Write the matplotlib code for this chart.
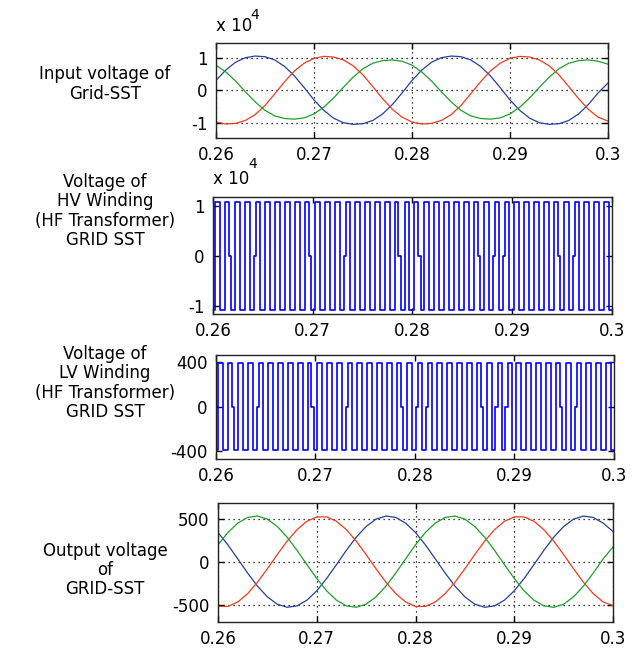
import matplotlib
matplotlib.use("Agg")
import matplotlib.pyplot as plt
import numpy as np

plt.rcParams["font.family"] = ["DejaVu Sans"]
plt.rcParams["font.size"] = 12

# time samples for the sine waveforms (every 1 ms)
t_sine = np.linspace(0.26, 0.30, 41)

# input voltage of Grid-SST, in units of 1e4 V
in_blue = [0.30, 0.62, 0.86, 1.00, 1.05, 1.03, 0.93, 0.73, 0.44, 0.08,
           -0.30, -0.62, -0.86, -1.00, -1.05, -1.03, -0.93, -0.73, -0.44, -0.08,
           0.30, 0.62, 0.86, 1.00, 1.05, 1.03, 0.93, 0.73, 0.44, 0.08,
           -0.30, -0.62, -0.86, -1.00, -1.05, -1.03, -0.93, -0.73, -0.44, -0.08,
           0.22]
in_red = [-0.98, -1.04, -1.02, -0.93, -0.75, -0.47, -0.11, 0.26, 0.59, 0.83,
          0.98, 1.04, 1.02, 0.93, 0.75, 0.47, 0.11, -0.26, -0.59, -0.83,
          -0.98, -1.04, -1.02, -0.93, -0.75, -0.47, -0.11, 0.26, 0.59, 0.83,
          0.98, 1.04, 1.02, 0.93, 0.75, 0.47, 0.11, -0.26, -0.59, -0.83,
          -0.95]
in_green = [0.77, 0.56, 0.28, -0.05, -0.36, -0.62, -0.79, -0.87, -0.89, -0.85,
            -0.73, -0.52, -0.24, 0.09, 0.40, 0.66, 0.83, 0.91, 0.93, 0.89,
            0.77, 0.56, 0.28, -0.05, -0.36, -0.62, -0.79, -0.87, -0.89, -0.85,
            -0.73, -0.52, -0.24, 0.09, 0.40, 0.66, 0.83, 0.91, 0.93, 0.89,
            0.80]

# output voltage of Grid-SST, in V
out_green = [195, 338, 447, 513, 529, 493, 408, 284, 132, -33,
             -195, -338, -447, -513, -529, -493, -408, -284, -132, 33,
             195, 338, 447, 513, 529, 493, 408, 284, 132, -33,
             -195, -338, -447, -513, -529, -493, -408, -284, -132, 33,
             170]
out_red = [-519, -519, -468, -371, -238, -82, 82, 238, 371, 468,
           519, 519, 468, 371, 238, 82, -82, -238, -371, -468,
           -519, -519, -468, -371, -238, -82, 82, 238, 371, 468,
           519, 519, 468, 371, 238, 82, -82, -238, -371, -468,
           -510]
out_blue = [338, 195, 33, -132, -284, -408, -493, -529, -513, -447,
            -338, -195, -33, 132, 284, 408, 493, 529, 513, 447,
            338, 195, 33, -132, -284, -408, -493, -529, -513, -447,
            -338, -195, -33, 132, 284, 408, 493, 529, 513, 447,
            350]

# HF transformer square waves: first edge, half period, levels and
# the edges (by index) that dwell briefly at zero
sw_first_edge = 0.2602
sw_half_period = 0.0005
sw_n_edges = 80
sw_dwell = 0.00022
hv_level = 1.08e4
hv_zero_edges = [3, 8, 19, 26, 37, 41, 53, 56, 58, 69, 72]
lv_level = 390
lv_zero_edges = [3, 8, 19, 26, 37, 40, 42, 53, 56, 58, 69, 72]

x_ticks = [0.26, 0.27, 0.28, 0.29, 0.30]
x_tick_labels = ["0.26", "0.27", "0.28", "0.29", "0.3"]

row_labels = [
    "Input voltage of\nGrid-SST",
    "Voltage of\nHV Winding\n(HF Transformer)\nGRID SST",
    "Voltage of\nLV Winding\n(HF Transformer)\nGRID SST",
    "Output voltage\nof\nGRID-SST",
]

BLUE = "#23409a"
RED = "#f23a1c"
GREEN = "#1e9e2a"


def square_wave(level, zero_edges):
    t = [0.26]
    y = [-level]
    cur = -level
    for i in range(sw_n_edges):
        te = sw_first_edge + i * sw_half_period
        nxt = -cur
        if i in zero_edges:
            a, b = te - sw_dwell / 2, te + sw_dwell / 2
            t += [a, a, b, b]
            y += [cur, 0, 0, nxt]
        else:
            t += [te, te]
            y += [cur, nxt]
        cur = nxt
    t.append(0.30)
    y.append(cur)
    return t, y


def style_axes(ax, yticks, ylabels, ylim, grid):
    ax.set_xlim(0.26, 0.30)
    ax.set_ylim(*ylim)
    ax.set_xticks(x_ticks)
    ax.set_xticklabels(x_tick_labels)
    ax.set_yticks(yticks)
    ax.set_yticklabels(ylabels)
    ax.tick_params(direction="in", length=4, width=1, top=True, right=True,
                   labelsize=12, pad=6, colors="k")
    for s in ax.spines.values():
        s.set_linewidth(1.0)
        s.set_color("#222222")
    if grid:
        ax.grid(True, color="k", linestyle=(0, (1, 3)), linewidth=0.9)


def exponent_label(ax):
    ax.text(0.0, 1.08, "x 10", transform=ax.transAxes, fontsize=12,
            ha="left", va="bottom")
    ax.text(0.088, 1.22, "4", transform=ax.transAxes, fontsize=10,
            ha="left", va="bottom")


fig = plt.figure(figsize=(6.44, 6.51), dpi=100)

ax1 = fig.add_axes([0.3354, 0.7880, 0.6087, 0.1459])
ax1.plot(t_sine, np.array(in_blue) * 1e4, color=BLUE, lw=0.9)
ax1.plot(t_sine, np.array(in_red) * 1e4, color=RED, lw=0.9)
ax1.plot(t_sine, np.array(in_green) * 1e4, color=GREEN, lw=0.9)
style_axes(ax1, [-1e4, 0, 1e4], ["-1", "0", "1"], (-1.47e4, 1.45e4), True)
exponent_label(ax1)

ax2 = fig.add_axes([0.3307, 0.5177, 0.6196, 0.1797])
t_hv, y_hv = square_wave(hv_level, hv_zero_edges)
ax2.plot(t_hv, y_hv, color="#0000ff", lw=1.2)
style_axes(ax2, [-1e4, 0, 1e4], ["-1", "0", "1"], (-1.15e4, 1.19e4), False)
exponent_label(ax2)

ax3 = fig.add_axes([0.3354, 0.2949, 0.6180, 0.1598])
t_lv, y_lv = square_wave(lv_level, lv_zero_edges)
ax3.plot(t_lv, y_lv, color="#0000ff", lw=1.2)
style_axes(ax3, [-400, 0, 400], ["-400", "0", "400"], (-470, 464), False)

ax4 = fig.add_axes([0.3385, 0.0445, 0.6134, 0.1828])
ax4.plot(t_sine, out_blue, color=BLUE, lw=0.9)
ax4.plot(t_sine, out_red, color=RED, lw=0.9)
ax4.plot(t_sine, out_green, color=GREEN, lw=0.9)
style_axes(ax4, [-500, 0, 500], ["-500", "0", "500"], (-700, 680), True)

label_y = [84, 211, 383, 570]
for text, y in zip(row_labels, label_y):
    fig.text(105 / 644, 1 - y / 651, text, ha="center", va="center",
             fontsize=12, linespacing=1.1)

fig.savefig("out.png", dpi=100)
